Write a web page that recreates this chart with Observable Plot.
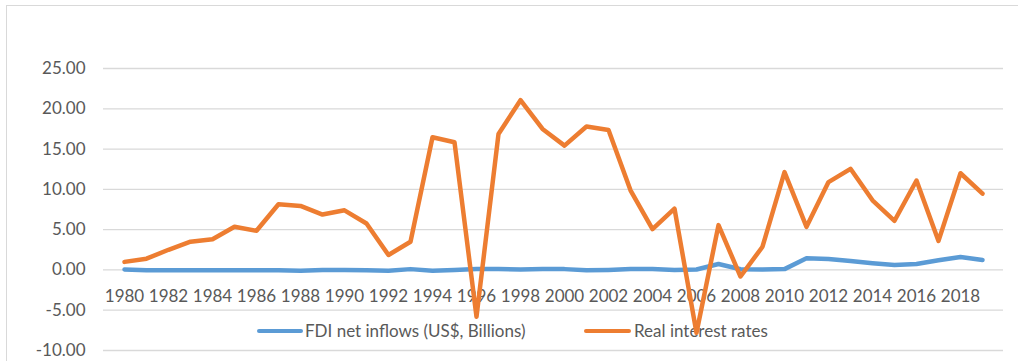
<!DOCTYPE html>
<html><head><meta charset="utf-8">
<script src="https://cdn.jsdelivr.net/npm/d3@7"></script>
<script src="https://cdn.jsdelivr.net/npm/@observablehq/plot@0.6"></script>
<style>
body{margin:0;background:#fff;font-family:Lato,"Open Sans",sans-serif;}
#wrap{position:relative;width:1018px;height:361px;overflow:hidden;background:#fff;}
#border{position:absolute;left:6px;top:5px;width:1100px;height:400px;border:1px solid #d9d9d9;}
#legend{position:absolute;left:0;top:319px;width:1018px;height:24px;font-size:17px;color:#595959;}
#legend .sw{position:absolute;top:10px;height:4px;border-radius:2px;}
#legend .tx{position:absolute;top:0;line-height:24px;white-space:nowrap;}
#chart{position:absolute;left:0;top:0;}
</style></head>
<body>
<div id="wrap">
  <div id="border"></div>
  <div id="legend"></div>
  <div id="chart"></div>
</div>
<script>
const years = [1980,1981,1982,1983,1984,1985,1986,1987,1988,1989,1990,1991,1992,1993,1994,1995,1996,1997,1998,1999,2000,2001,2002,2003,2004,2005,2006,2007,2008,2009,2010,2011,2012,2013,2014,2015,2016,2017,2018,2019];
const fdi = [0.05,-0.05,-0.05,-0.05,-0.05,-0.05,-0.05,-0.05,-0.1,0.0,0.0,-0.05,-0.1,0.1,-0.1,0.0,0.1,0.1,0.05,0.1,0.1,-0.05,0.0,0.1,0.1,0.0,0.05,0.74,0.08,0.05,0.1,1.44,1.36,1.1,0.82,0.6,0.74,1.2,1.6,1.23];
const realRates = [1.0,1.4,2.5,3.5,3.8,5.35,4.86,8.15,7.94,6.87,7.4,5.76,1.85,3.5,16.46,15.84,-5.8,16.87,21.07,17.5,15.43,17.8,17.37,9.88,5.06,7.6,-7.8,5.56,-0.82,2.88,12.14,5.35,10.9,12.55,8.64,6.1,11.1,3.6,12.0,9.47];
const yTicks = [-10,-5,0,5,10,15,20,25];
const xTickLabels = [1980,1982,1984,1986,1988,1990,1992,1994,1996,1998,2000,2002,2004,2006,2008,2010,2012,2014,2016,2018];
const seriesNames = ["FDI net inflows (US$, Billions)", "Real interest rates"];
const seriesColors = ["#5B9BD5", "#ED7D31"];

const fdiData = years.map((y,i)=>({year:y, value:fdi[i]}));
const rateData = years.map((y,i)=>({year:y, value:realRates[i]}));

const chart = Plot.plot({
  width: 1018, height: 361,
  marginLeft: 103, marginRight: 15, marginTop: 68, marginBottom: 11,
  style: {fontFamily: "Lato, 'Open Sans', sans-serif", fontSize: "17px", background: "transparent", overflow: "visible"},
  x: {type: "point", domain: years, padding: 0.5, axis: null},
  y: {domain: [-10, 25], axis: null},
  marks: [
    Plot.gridY(yTicks, {stroke: "#d9d9d9", strokeOpacity: 1, strokeWidth: 1.3}),
    Plot.axisY(yTicks, {tickSize: 0, tickPadding: 18, tickFormat: d => d.toFixed(2), fill: "#595959", fontSize: 17, label: null}),
    Plot.text(xTickLabels, {x: d => d, y: d => 0, dy: 27, text: d => String(d), fill: "#595959", fontSize: 17}),
    Plot.line(fdiData, {x: "year", y: "value", stroke: seriesColors[0], strokeWidth: 4.5, strokeLinejoin: "round", strokeLinecap: "round"}),
    Plot.line(rateData, {x: "year", y: "value", stroke: seriesColors[1], strokeWidth: 4.5, strokeLinejoin: "round", strokeLinecap: "round"})
  ]
});
document.getElementById("chart").appendChild(chart);

const legend = document.getElementById("legend");
const pos = [{sw: 257, w: 46, tx: 305}, {sw: 584, w: 47, tx: 634}];
seriesNames.forEach((n,i)=>{
  const s = document.createElement("div");
  s.className = "sw"; s.style.left = pos[i].sw + "px"; s.style.width = pos[i].w + "px"; s.style.background = seriesColors[i];
  legend.appendChild(s);
  const t = document.createElement("div");
  t.className = "tx"; t.style.left = pos[i].tx + "px"; t.textContent = n;
  legend.appendChild(t);
});
</script>
</body></html>
